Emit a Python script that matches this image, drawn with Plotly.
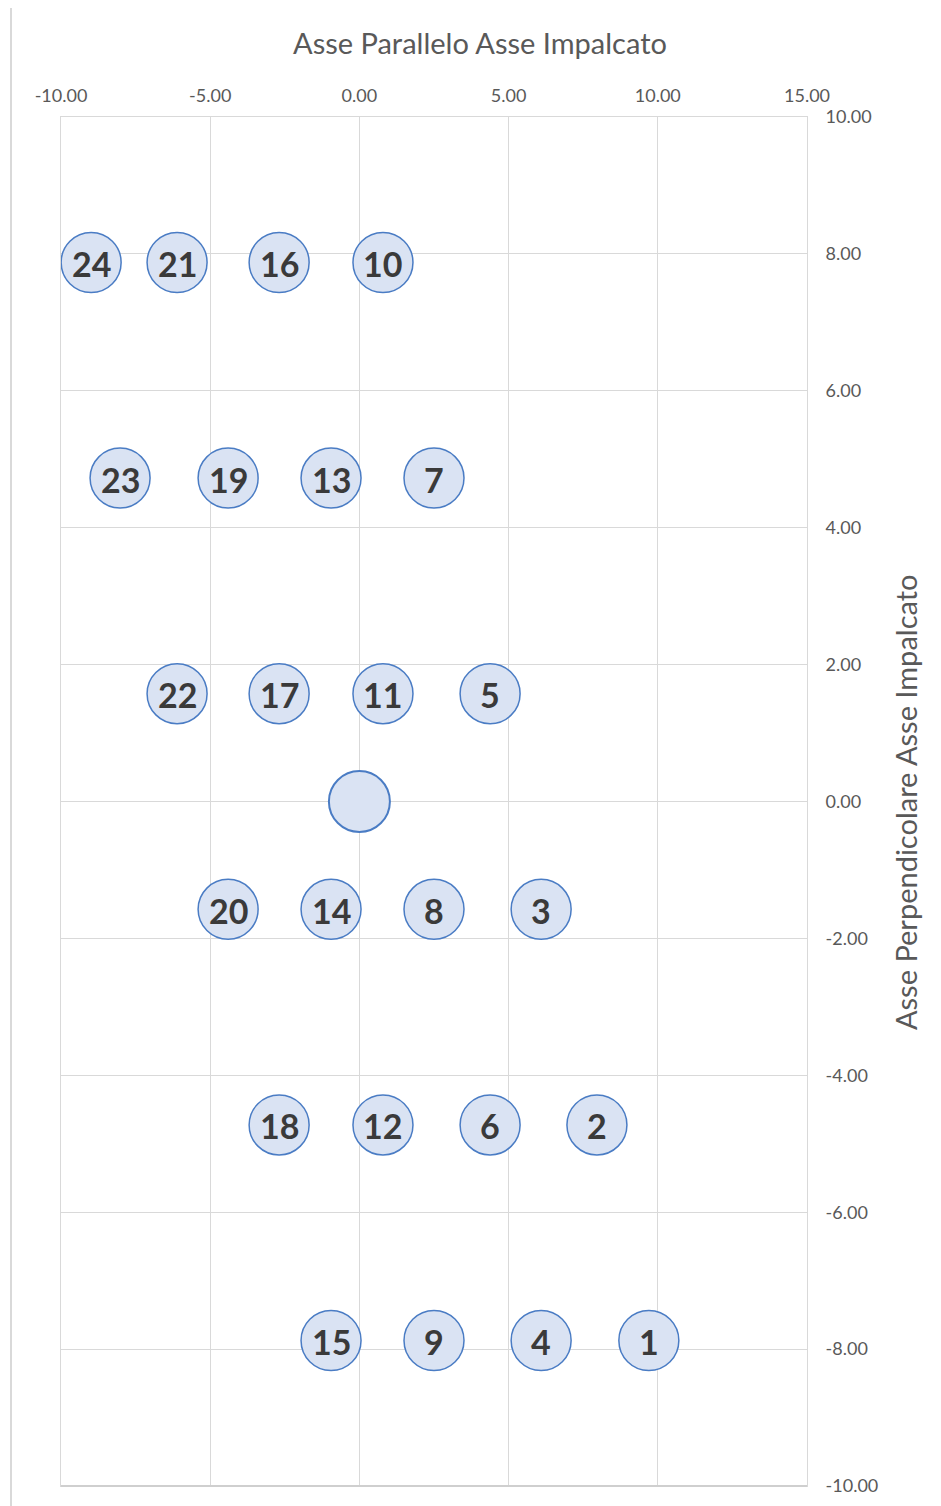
import plotly.graph_objects as go

# Pile labels and positions
labels = ["1", "2", "3", "4", "5", "6", "7", "8", "9", "10", "11", "12",
          "13", "14", "15", "16", "17", "18", "19", "20", "21", "22", "23", "24"]
x_vals = [9.70, 7.96, 6.09, 6.09, 4.38, 4.38, 2.50, 2.50, 2.50, 0.79, 0.79, 0.79,
          -0.95, -0.95, -0.95, -2.69, -2.69, -2.69, -4.40, -4.40, -6.11, -6.11, -8.02, -8.99]
y_vals = [-7.875, -4.725, -1.575, -7.875, 1.575, -4.725, 4.725, -1.575, -7.875, 7.875, 1.575, -4.725,
          4.725, -1.575, -7.875, 7.875, 1.575, -4.725, 4.725, -1.575, 7.875, 1.575, 4.725, 7.875]
center_x = [0.0]
center_y = [0.0]

x_ticks = [-10, -5, 0, 5, 10, 15]
x_ticktext = ["-10.00", "-5.00", "0.00", "5.00", "10.00", "15.00"]
y_ticks = [-10, -8, -6, -4, -2, 0, 2, 4, 6, 8, 10]
y_ticktext = ["-10.00", "-8.00", "-6.00", "-4.00", "-2.00", "0.00", "2.00", "4.00", "6.00", "8.00", "10.00"]

fill = "#dae3f3"
edge = "#4a7cc4"
grid = "#d9d9d9"
txt = "#595959"

fig = go.Figure()
fig.add_trace(go.Scatter(
    x=center_x, y=center_y, mode="markers",
    marker=dict(size=61, color=fill, line=dict(color=edge, width=2)),
    hoverinfo="skip", showlegend=False))
fig.add_trace(go.Scatter(
    x=x_vals, y=y_vals, mode="markers", text=labels,
    marker=dict(size=60, color=fill, line=dict(color=edge, width=1.5)),
    showlegend=False))

label_annots = [
    dict(x=xv, y=yv, xref="x", yref="y", text=lb, showarrow=False,
         xanchor="center", yanchor="middle", yshift=-1,
         font=dict(family="Lato", size=34, color="#3a3a3a", weight="bold"))
    for xv, yv, lb in zip(x_vals, y_vals, labels)
]

fig.update_layout(
    width=941, height=1506,
    margin=dict(l=53, r=142, t=109, b=28),
    paper_bgcolor="white", plot_bgcolor="white",
    font=dict(family="Lato", color=txt),
    xaxis=dict(side="top", range=[-10, 15], tickvals=x_ticks, ticktext=x_ticktext,
               showgrid=True, gridcolor=grid, gridwidth=1, zeroline=False,
               showline=True, linecolor=grid, linewidth=1, mirror=True,
               ticks="", tickfont=dict(size=18, color=txt), ticklabelstandoff=7,
               fixedrange=True),
    yaxis=dict(side="right", range=[-10, 10], tickvals=y_ticks, ticktext=y_ticktext,
               showgrid=True, gridcolor=grid, gridwidth=1, zeroline=False,
               showline=True, linecolor=grid, linewidth=1, mirror=True,
               ticks="", tickfont=dict(size=18, color=txt), ticklabelstandoff=14,
               fixedrange=True),
    annotations=label_annots + [
        dict(text="Asse Parallelo Asse Impalcato", xref="paper", yref="paper",
             x=0.5617, y=1.0545, xanchor="center", yanchor="middle", showarrow=False,
             font=dict(family="Lato", size=29, color=txt)),
        dict(text="Asse Perpendicolare Asse Impalcato", xref="paper", yref="paper",
             x=1.1314, y=0.4996, xanchor="center", yanchor="middle", showarrow=False,
             textangle=-90, font=dict(family="Lato", size=29, color=txt)),
    ],
    shapes=[
        dict(type="rect", xref="paper", yref="paper", x0=-0.067, x1=1.19, y0=-0.03, y1=1.0811,
             line=dict(color=grid, width=2), fillcolor="rgba(0,0,0,0)", layer="below"),
        dict(type="line", xref="paper", yref="paper", x0=0, x1=1, y0=0, y1=0,
             line=dict(color="#cfcfcf", width=2)),
    ],
)

fig.write_html("out.html")
